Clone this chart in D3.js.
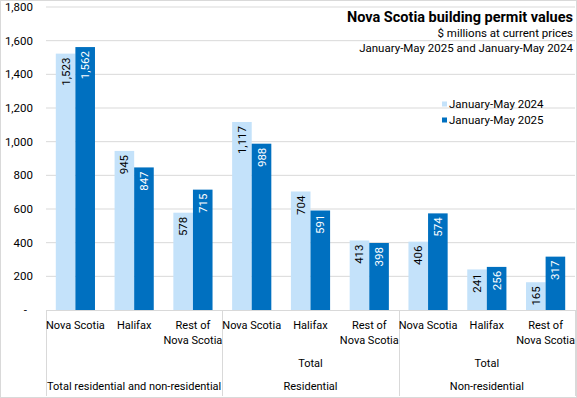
<!DOCTYPE html>
<html>
<head>
<meta charset="utf-8">
<script src="https://cdn.jsdelivr.net/npm/d3@7"></script>
<style>
  body { margin: 0; background: #fff; }
  text { font-family: Roboto, "Noto Sans", sans-serif; }
</style>
</head>
<body>
<div id="chart"></div>
<script>
// data
const groups = ["Total residential and non-residential", "Residential", "Non-residential"];
const subLabels = ["", "Total", "Total"];
const categories = ["Nova Scotia", "Halifax", "Rest of\nNova Scotia"];
const series = ["January-May 2024", "January-May 2025"];
const values2024 = [1523, 945, 578, 1117, 704, 413, 406, 241, 165];
const values2025 = [1562, 847, 715, 988, 591, 398, 574, 256, 317];
const yTicks = [0, 200, 400, 600, 800, 1000, 1200, 1400, 1600, 1800];

const width = 577, height = 398;
const colors = ["#c4e2fa", "#0070c0"];

const svg = d3.select("#chart").append("svg")
  .attr("width", width)
  .attr("height", height);

// outer border
svg.append("rect")
  .attr("x", 0.5).attr("y", 0.5)
  .attr("width", width - 1).attr("height", height - 1)
  .attr("fill", "#fff").attr("stroke", "#d9d9d9");

const plotLeft = 46, plotRight = 575, baseY = 310;

const y = d3.scaleLinear().domain([0, 1800]).range([baseY, 7]);

const xGroup = d3.scaleBand().domain(groups).range([plotLeft, plotRight]);
const xCat = d3.scaleBand().domain(d3.range(3)).range([0, xGroup.bandwidth()]);
const xSer = d3.scaleBand().domain([0, 1]).range([0, xCat.bandwidth()]).paddingOuter(0.5);

// gridlines
svg.append("g")
  .selectAll("line")
  .data(yTicks.slice(1))
  .enter().append("line")
  .attr("x1", plotLeft).attr("x2", plotRight)
  .attr("y1", d => y(d)).attr("y2", d => y(d))
  .attr("stroke", "#d9d9d9");

// y axis labels
svg.append("g")
  .selectAll("text")
  .data(yTicks)
  .enter().append("text")
  .attr("x", d => d === 0 ? 27 : 33)
  .attr("y", d => y(d) + 4)
  .attr("text-anchor", "end")
  .style("font-size", "11.5px")
  .attr("fill", "#000")
  .text(d => d === 0 ? "-" : d3.format(",")(d));

// bars
const rows = [];
groups.forEach((g, gi) => {
  categories.forEach((c, ci) => {
    const idx = gi * 3 + ci;
    [values2024[idx], values2025[idx]].forEach((v, si) => {
      rows.push({ g, ci, si, v });
    });
  });
});

const barX = d => xGroup(d.g) + xCat(d.ci) + xSer(d.si);

svg.append("g")
  .selectAll("rect")
  .data(rows)
  .enter().append("rect")
  .attr("x", barX)
  .attr("y", d => y(d.v))
  .attr("width", xSer.bandwidth())
  .attr("height", d => baseY - y(d.v))
  .attr("fill", d => colors[d.si]);

// data labels (rotated, inside end)
svg.append("g")
  .selectAll("text")
  .data(rows)
  .enter().append("text")
  .attr("transform", d => `translate(${barX(d) + xSer.bandwidth() / 2 + 4},${y(d.v) + 4}) rotate(-90)`)
  .attr("text-anchor", "end")
  .style("font-size", "11.5px")
  .attr("fill", d => d.si === 0 ? "#000" : "#fff")
  .text(d => d3.format(",")(d.v));

// x axis line and separators
svg.append("line")
  .attr("x1", plotLeft).attr("x2", plotRight)
  .attr("y1", baseY + 0.5).attr("y2", baseY + 0.5)
  .attr("stroke", "#d9d9d9");

const seps = groups.map(g => xGroup(g)).concat([plotRight]);
svg.append("g")
  .selectAll("line")
  .data(seps)
  .enter().append("line")
  .attr("x1", d => Math.round(d) + 0.5).attr("x2", d => Math.round(d) + 0.5)
  .attr("y1", baseY).attr("y2", 396)
  .attr("stroke", "#d9d9d9");

// category labels
const catG = svg.append("g");
groups.forEach(g => {
  categories.forEach((c, ci) => {
    const cx = xGroup(g) + xCat(ci) + xCat.bandwidth() / 2;
    const t = catG.append("text")
      .attr("x", cx)
      .attr("y", 329)
      .attr("text-anchor", "middle")
      .style("font-size", "11px")
      .attr("fill", "#000");
    c.split("\n").forEach((line, li) => {
      t.append("tspan")
        .attr("x", cx)
        .attr("dy", li === 0 ? 0 : 15)
        .text(line);
    });
  });
});

// sub labels ("Total")
svg.append("g")
  .selectAll("text")
  .data(groups)
  .enter().append("text")
  .attr("x", g => xGroup(g) + xGroup.bandwidth() / 2)
  .attr("y", 367)
  .attr("text-anchor", "middle")
  .style("font-size", "11px")
  .text((g, i) => subLabels[i]);

// group labels
svg.append("g")
  .selectAll("text")
  .data(groups)
  .enter().append("text")
  .attr("x", g => xGroup(g) + xGroup.bandwidth() / 2)
  .attr("y", 390)
  .attr("text-anchor", "middle")
  .style("font-size", "11px")
  .text(g => g);

// title
svg.append("text")
  .attr("x", 573).attr("y", 22)
  .attr("text-anchor", "end")
  .style("font-size", "14.5px")
  .style("font-weight", "bold")
  .text("Nova Scotia building permit values");

svg.append("text")
  .attr("x", 573).attr("y", 37)
  .attr("text-anchor", "end")
  .style("font-size", "11.5px")
  .text("$ millions at current prices");

svg.append("text")
  .attr("x", 573).attr("y", 52)
  .attr("text-anchor", "end")
  .style("font-size", "11.5px")
  .text("January-May 2025 and January-May 2024");

// legend
const legend = svg.append("g").attr("transform", "translate(442, 99)");
const li = legend.selectAll("g")
  .data(series)
  .enter().append("g")
  .attr("transform", (d, i) => `translate(0, ${i * 16})`);
li.append("rect")
  .attr("width", 5).attr("height", 5)
  .attr("y", 2.5)
  .attr("fill", (d, i) => colors[i]);
li.append("text")
  .attr("x", 7).attr("y", 9)
  .style("font-size", "11.5px")
  .text(d => d);
</script>
</body>
</html>
